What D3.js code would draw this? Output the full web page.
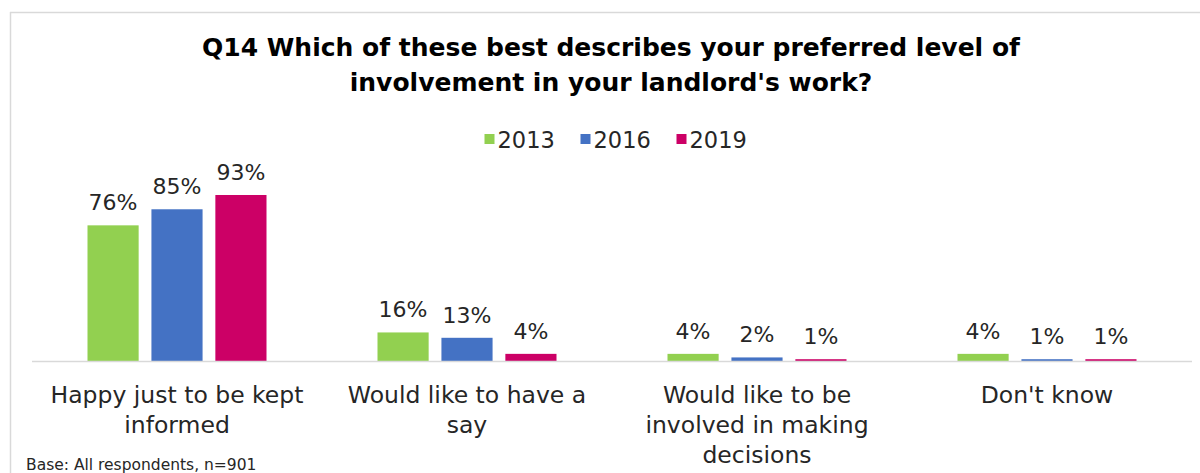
<!DOCTYPE html>
<html>
<head>
<meta charset="utf-8">
<script src="https://cdn.jsdelivr.net/npm/d3@7"></script>
<style>
  html, body { margin: 0; padding: 0; background: #fff; }
  svg { display: block; }
  text { font-family: "DejaVu Sans", sans-serif; }
</style>
</head>
<body>
<div id="chart"></div>
<script>
// Survey responses by year (percent of respondents)
const categories = [
  "Happy just to be kept informed",
  "Would like to have a say",
  "Would like to be involved in making decisions",
  "Don't know"
];
const categoryLines = [
  ["Happy just to be kept", "informed"],
  ["Would like to have a", "say"],
  ["Would like to be", "involved in making", "decisions"],
  ["Don't know"]
];
const years = ["2013", "2016", "2019"];
const values2013 = [76, 16, 4, 4];
const values2016 = [85, 13, 2, 1];
const values2019 = [93, 4, 1, 1];
const colors = ["#92D050", "#4472C4", "#CC0066"];
const titleLines = [
  "Q14 Which of these best describes your preferred level of",
  "involvement in your landlord's work?"
];
const baseNote = "Base: All respondents, n=901";

const seriesValues = [values2013, values2016, values2019];

const W = 1200, H = 473;
const svg = d3.select("#chart").append("svg")
  .attr("width", W).attr("height", H);

// Panel frame (top and left edges)
svg.append("line").attr("x1", 10).attr("x2", W).attr("y1", 12.5).attr("y2", 12.5)
  .attr("stroke", "#d9d9d9").attr("stroke-width", 1.5);
svg.append("line").attr("x1", 10.5).attr("x2", 10.5).attr("y1", 12).attr("y2", H)
  .attr("stroke", "#d9d9d9").attr("stroke-width", 1.5);

const plotLeft = 32, plotRight = 1192, baseY = 361;

const x0 = d3.scaleBand().domain(categories).range([plotLeft, plotRight]).padding(0);
const innerPad = (x0.bandwidth() - 179) / 2;
const x1 = d3.scaleBand().domain(years)
  .range([innerPad, x0.bandwidth() - innerPad])
  .paddingInner(0.2).paddingOuter(0);
const y = d3.scaleLinear().domain([0, 100]).range([baseY, baseY - 178.5]);

// Title
const cx = (plotLeft + plotRight) / 2;
svg.append("g").selectAll("text").data(titleLines).join("text")
  .attr("x", cx - 1)
  .attr("y", (d, i) => 56 + i * 35)
  .attr("text-anchor", "middle")
  .attr("font-size", 25)
  .attr("font-weight", "bold")
  .attr("fill", "#000")
  .text(d => d);

// Legend
const legendItemW = 69, legendGap = 27;
const legendTotal = years.length * legendItemW + (years.length - 1) * legendGap;
const legend = svg.append("g")
  .attr("transform", `translate(${cx - legendTotal / 2 + 3},0)`);
const li = legend.selectAll("g").data(years).join("g")
  .attr("transform", (d, i) => `translate(${i * (legendItemW + legendGap)},0)`);
li.append("rect").attr("x", 0).attr("y", 134).attr("width", 10).attr("height", 10)
  .attr("fill", (d, i) => colors[i]);
li.append("text").attr("x", 13).attr("y", 148)
  .attr("font-size", 22.5).attr("fill", "#262626")
  .text(d => d);

// Bars and value labels
const groups = svg.append("g").selectAll("g").data(categories).join("g")
  .attr("transform", d => `translate(${x0(d)},0)`);

groups.selectAll("rect")
  .data((c, ci) => years.map((yr, si) => ({ yr, si, v: seriesValues[si][ci] })))
  .join("rect")
  .attr("x", d => x1(d.yr))
  .attr("y", d => y(d.v))
  .attr("width", x1.bandwidth())
  .attr("height", d => baseY - y(d.v))
  .attr("fill", d => colors[d.si]);

groups.selectAll("text.val")
  .data((c, ci) => years.map((yr, si) => ({ yr, si, v: seriesValues[si][ci] })))
  .join("text")
  .attr("class", "val")
  .attr("x", d => x1(d.yr) + x1.bandwidth() / 2)
  .attr("y", d => y(d.v) - 15)
  .attr("text-anchor", "middle")
  .attr("font-size", 22)
  .attr("fill", "#262626")
  .text(d => d.v + "%");

// Category axis baseline
svg.append("line").attr("x1", plotLeft).attr("x2", plotRight)
  .attr("y1", baseY + 0.5).attr("y2", baseY + 0.5)
  .attr("stroke", "#d9d9d9").attr("stroke-width", 1.5);

// Category labels
const catLabels = svg.append("g").selectAll("text").data(categories).join("text")
  .attr("text-anchor", "middle")
  .attr("font-size", 23.5)
  .attr("fill", "#262626");
catLabels.each(function (c, i) {
  d3.select(this).selectAll("tspan").data(categoryLines[i]).join("tspan")
    .attr("x", x0(c) + x0.bandwidth() / 2)
    .attr("y", (d, j) => 403 + j * 30)
    .text(d => d);
});

// Base note
svg.append("text").attr("x", 26).attr("y", 470)
  .attr("font-size", 15.5).attr("fill", "#262626")
  .text(baseNote);
</script>
</body>
</html>
